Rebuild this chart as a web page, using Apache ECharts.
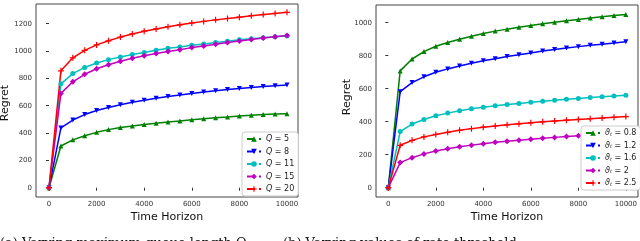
<!DOCTYPE html>
<html><head><meta charset="utf-8">
<script src="https://cdn.jsdelivr.net/npm/echarts@6/dist/echarts.min.js"></script>
<style>html,body{margin:0;padding:0;background:#fff}#c{width:640px;height:241px}</style>
</head><body><div id="c"></div>
<script>
const horizon = [0,500,1000,1500,2000,2500,3000,3500,4000,4500,5000,5500,6000,6500,7000,7500,8000,8500,9000,9500,10000];

const leftNames = ['Q = 5','Q = 8','Q = 11','Q = 15','Q = 20'];
const q5  = [0,305,350,380,405,425,440,452,462,472,480,488,497,505,512,518,525,530,535,540,542];
const q8  = [0,437,495,535,565,587,607,625,640,655,667,678,690,700,710,718,726,733,740,746,752];
const q11 = [0,760,835,880,912,937,957,975,990,1005,1020,1030,1042,1052,1062,1072,1082,1090,1097,1105,1112];
const q15 = [0,690,775,830,870,900,925,947,965,982,997,1010,1025,1037,1050,1062,1073,1085,1095,1105,1113];
const q20 = [0,855,950,1005,1045,1075,1102,1125,1145,1162,1178,1192,1205,1217,1228,1238,1248,1258,1267,1275,1283];

const rightNames = ['\u03d1t = 0.8','\u03d1t = 1.2','\u03d1t = 1.6','\u03d1t = 2','\u03d1t = 2.5'];
const t08 = [0,708,780,825,857,880,900,918,935,949,961,972,983,993,1003,1012,1020,1028,1036,1043,1050];
const t12 = [0,582,637,672,700,720,738,754,769,782,795,806,817,828,838,847,855,863,870,877,885];
const t16 = [0,340,386,413,436,452,466,478,488,496,504,511,518,524,530,536,541,546,551,556,561];
const t20 = [0,152,182,205,222,236,248,258,267,275,282,288,294,300,305,310,315,319,323,327,331];
const t25 = [0,257,287,308,323,336,348,358,367,374,381,387,393,399,404,409,414,418,422,427,431];

const colors = ['#008000','#0000ff','#00bfbf','#bf00bf','#ff0000'];
const plusPath = 'path://M4,0H6V4H10V6H6V10H4V6H0V4H4Z';
const downTri = 'path://M0,0L10,0L5,9Z';
const symbols = ['triangle', downTri, 'circle', 'diamond', plusPath];
const symSizes = [5, 5, 5, 6, 6];

const chart = echarts.init(document.getElementById('c'), null, {renderer:'canvas'});

function pairs(arr){ return horizon.map((x,i)=>[x,arr[i]]); }
function mkSeries(names, arrs, xi){
  return arrs.map((a,i)=>({
    type:'line', name:names[i], xAxisIndex:xi, yAxisIndex:xi,
    data:pairs(a), symbol:symbols[i], symbolSize:symSizes[i], showSymbol:true,
    clip:false, animation:false,
    itemStyle:{color:colors[i]}, lineStyle:{color:colors[i], width:1.5}
  }));
}

const tickLabel = {fontFamily:'DejaVu Sans', fontSize:7, color:'#333', margin:4, formatter: v => String(v)};
function dataX(gi){ return {gridIndex:gi, type:'value', min:0, max:10000, interval:2000, offset:9.3,
  axisLine:{show:false}, axisTick:{show:true, length:3, lineStyle:{color:'#333'}}, splitLine:{show:false},
  axisLabel:tickLabel}; }
function dataY(gi, max, off){ return {gridIndex:gi, type:'value', min:0, max:max, interval:200, offset:off,
  axisLine:{show:false}, axisTick:{show:true, length:3, lineStyle:{color:'#333'}}, splitLine:{show:false},
  axisLabel:tickLabel}; }
function hiddenAx(gi){ return {gridIndex:gi, type:'value', show:false, min:0, max:1}; }

function legendFor(names, left, top, fmt, rich){
  return {data:names, orient:'vertical', left:left, top:top, itemWidth:14, itemHeight:7, itemGap:4.5,
    backgroundColor:'#fff', borderColor:'#ccc', borderWidth:1, borderRadius:3, padding:[3,4,3,4],
    lineStyle:{type:'dashed'}, formatter:fmt,
    textStyle:{fontFamily:'DejaVu Sans', fontSize:8, color:'#222', lineHeight:8, rich:rich}};
}

function txt(text, x, y, font, align, valign, rot){
  return {type:'text', x:x, y:y, rotation:rot||0,
    style:{text:text, font:font, fill:'#111', align:align, verticalAlign:valign}};
}

const option = {
  backgroundColor:'#fff',
  animation:false,
  grid:[
    {left:49, top:23.7, width:238, height:164, show:false},
    {left:388.3, top:22.7, width:238.4, height:165, show:false},
    {left:36, top:4, width:262, height:193, show:true, borderColor:'#444', borderWidth:1, backgroundColor:'transparent', z:0},
    {left:376, top:5, width:262, height:192, show:true, borderColor:'#444', borderWidth:1, backgroundColor:'transparent', z:0}
  ],
  xAxis:[dataX(0), dataX(1), hiddenAx(2), hiddenAx(3)],
  yAxis:[dataY(0,1200,13), dataY(1,1000,12.3), hiddenAx(2), hiddenAx(3)],
  legend:[
    legendFor(leftNames, 242, 132, n => '{i|Q} ' + n.slice(2),
      {i:{fontStyle:'italic', fontFamily:'DejaVu Sans', fontSize:8, color:'#222'}}),
    legendFor(rightNames, 581, 126, n => '{i|\u03d1}{s|t} ' + n.slice(3),
      {i:{fontStyle:'italic', fontFamily:'DejaVu Sans', fontSize:8, color:'#222'},
       s:{fontStyle:'italic', fontFamily:'DejaVu Sans', fontSize:5, color:'#222', verticalAlign:'bottom', padding:[4,0,0,0]}})
  ],
  series:[].concat(mkSeries(leftNames,[q5,q8,q11,q15,q20],0), mkSeries(rightNames,[t08,t12,t16,t20,t25],1)),
  graphic:[
    txt('Regret', 5, 103, '11px "DejaVu Sans"', 'center', 'middle', Math.PI/2),
    txt('Regret', 347, 97, '11px "DejaVu Sans"', 'center', 'middle', Math.PI/2),
    txt('Time Horizon', 167, 217, '11px "DejaVu Sans"', 'center', 'middle'),
    txt('Time Horizon', 507, 217, '11px "DejaVu Sans"', 'center', 'middle'),
    txt('(a) Varying maximum queue length Q', 0, 237, '13px "DejaVu Serif"', 'left', 'top'),
    txt('(b) Varying values of rate threshold', 283, 237, '13px "DejaVu Serif"', 'left', 'top')
  ]
};
chart.setOption(option);
</script></body></html>
